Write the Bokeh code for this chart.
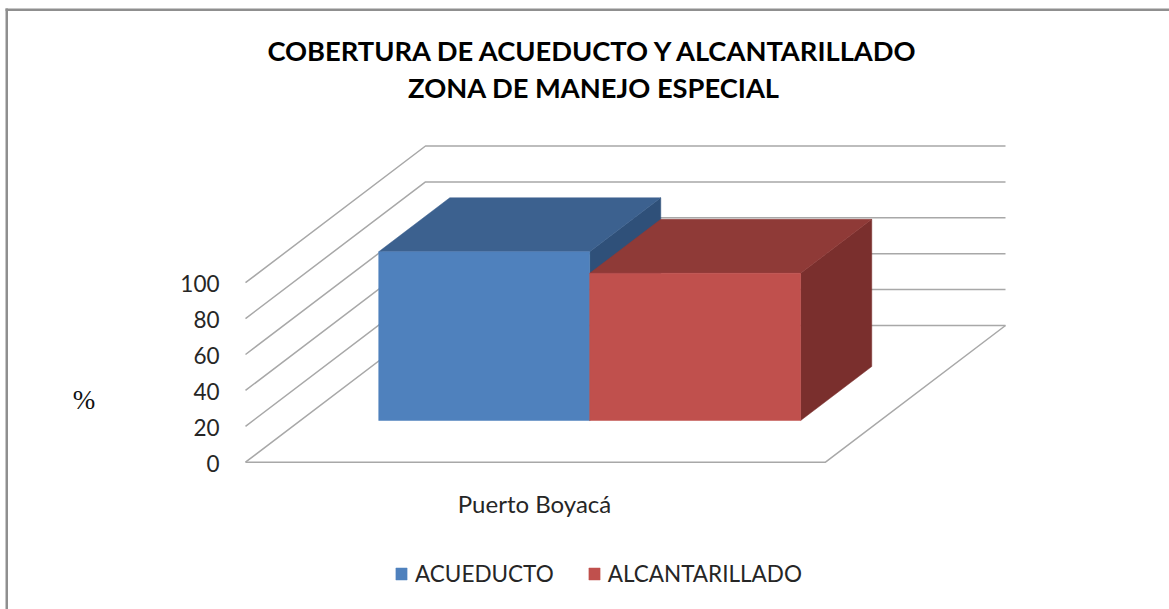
from bokeh.embed import file_html
from bokeh.resources import INLINE
from bokeh.plotting import figure
from bokeh.models import Range1d, Legend, LegendItem, BoxAnnotation
from bokeh.core.properties import value

# ---- data ----
title_lines = ["COBERTURA DE ACUEDUCTO Y ALCANTARILLADO", "ZONA DE MANEJO ESPECIAL"]
category = "Puerto Boyacá"
series_names = ["ACUEDUCTO", "ALCANTARILLADO"]
series_values = [94, 82]
y_ticks = [0, 20, 40, 60, 80, 100]
y_title = "%"

# ---- styles ----
FRONT = ["#4f81bd", "#c0504d"]
TOP = ["#3c618f", "#8f3a37"]
SIDE = ["#2f5079", "#7a2f2d"]
GRID = "#a8a8a8"
W, H = 1169, 609

# ---- layout: data units to page pixels ----
X0_PX, X_SPAN_PX = 245.0, 580.0      # front floor edge
Y0_PX, UNIT_PX = 461.7, 1.795        # value 0 on the front plane, px per percent
DEPTH_X_PX, DEPTH_Y_PX = 180.0, 136.7

DX = DEPTH_X_PX / X_SPAN_PX
DY = DEPTH_Y_PX / UNIT_PX
GAP_LEFT, GAP_RIGHT = 0.135, 0.1375
BAR_W = (1 - GAP_LEFT - GAP_RIGHT) / len(series_values)
D_FRONT, D_BACK = 0.305, 0.70


def px(page_x):
    return (page_x - X0_PX) / X_SPAN_PX


def py(page_y):
    return (Y0_PX - page_y) / UNIT_PX


def proj(x, y, d):
    return x + d * DX, y + d * DY


p = figure(
    width=W, height=H, output_backend="svg", toolbar_location=None,
    x_range=Range1d(px(0), px(W)), y_range=Range1d(py(H), py(0)),
    x_axis_location=None, y_axis_location=None,
    min_border=0, outline_line_color=None, margin=0,
    background_fill_color="white", border_fill_color="white",
)
p.grid.visible = False

# chart frame (left and top edges are visible in the reference)
for box in [dict(left=px(5), right=px(7.5), top=py(8), bottom=py(H)),
            dict(left=px(5), right=px(W), top=py(8), bottom=py(10.5))]:
    p.add_layout(BoxAnnotation(fill_color="#8f8f8f", fill_alpha=1, line_color=None, **box))

# gridlines: floor depth lines and back wall
for t in y_ticks:
    xs, ys = zip(proj(0, t, 0), proj(0, t, 1), proj(1, t, 1))
    p.line(list(xs), list(ys), line_color=GRID, line_width=1.5)
xs, ys = zip(proj(0, 0, 0), proj(1, 0, 0), proj(1, 0, 1))
p.line(list(xs), list(ys), line_color=GRID, line_width=1.5)

# 3D bars
front_renderers = []
for i, v in enumerate(series_values):
    x1 = GAP_LEFT + i * BAR_W
    x2 = x1 + BAR_W
    side = [proj(x2, 0, D_FRONT), proj(x2, 0, D_BACK), proj(x2, v, D_BACK), proj(x2, v, D_FRONT)]
    top = [proj(x1, v, D_FRONT), proj(x2, v, D_FRONT), proj(x2, v, D_BACK), proj(x1, v, D_BACK)]
    front = [proj(x1, 0, D_FRONT), proj(x2, 0, D_FRONT), proj(x2, v, D_FRONT), proj(x1, v, D_FRONT)]
    for face, col in ((side, SIDE[i]), (top, TOP[i])):
        p.patch([a for a, _ in face], [b for _, b in face], fill_color=col, line_color=col, line_width=0.5)
    r = p.patch([a for a, _ in front], [b for _, b in front], fill_color=FRONT[i], line_color=FRONT[i], line_width=0.5)
    front_renderers.append(r)

# value tick labels
p.text([px(219)] * len(y_ticks), [t + py(462.5) for t in y_ticks], text=[str(t) for t in y_ticks],
       text_font=value("Lato"), text_font_size="22.5px", text_color="#262626",
       text_align="right", text_baseline="middle")

# category label
p.text([px(534)], [py(503)], text=[category],
       text_font=value("Lato"), text_font_size="24px", text_color="#262626",
       text_align="center", text_baseline="middle")

# % label
p.text([px(83.5)], [py(399)], text=[y_title], text_font=value("Liberation Serif"),
       text_font_size="27px", text_color="#111111", text_align="center", text_baseline="middle")

# title
for line, yy in zip(title_lines, (50, 87)):
    p.text([px(593.5)], [py(yy)], text=[line], text_font=value("Lato"), text_font_size="27.3px",
           text_font_style="bold", text_color="#000000", text_align="center", text_baseline="middle")

legend = Legend(
    items=[LegendItem(label=n, renderers=[r]) for n, r in zip(series_names, front_renderers)],
    orientation="horizontal", location=(394, H - 587), border_line_color=None,
    background_fill_alpha=0, padding=0, margin=0, glyph_width=14, glyph_height=15,
    label_standoff=7, spacing=33, label_text_font="Lato", label_text_font_size="22.5px",
    label_text_color="#262626", label_height=15,
)
p.add_layout(legend)

open("out.html", "w").write(file_html(p, INLINE))
